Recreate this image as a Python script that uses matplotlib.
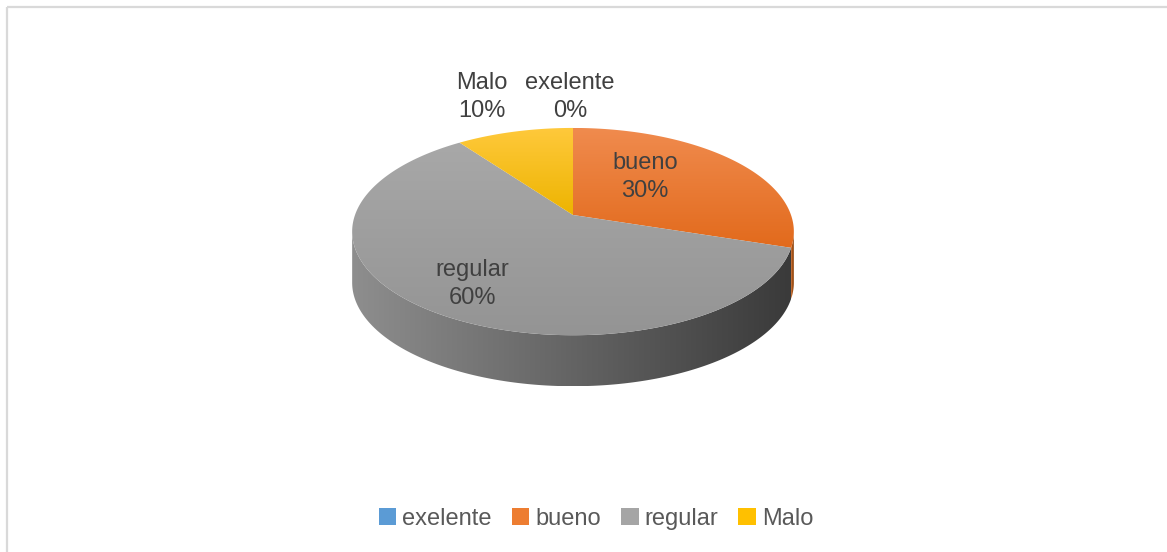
import numpy as np
import matplotlib.pyplot as plt
from matplotlib.patches import Polygon, Patch, Rectangle
from matplotlib.colors import to_rgb

plt.rcParams['font.family'] = ['Liberation Sans', 'DejaVu Sans']

labels = ['exelente', 'bueno', 'regular', 'Malo']
values = [0, 30, 60, 10]
colors = ['#5B9BD5', '#ED7D31', '#A5A5A5', '#FFC000']
# lighter/darker shades used for the shaded top faces
tops_hi = ['#6FA8DC', '#F08B4E', '#A8A8A8', '#FFC93C']
tops_lo = ['#4A8AC4', '#E26A1C', '#949494', '#EDB400']
side_l = ['#4A7FB0', '#C0601E', '#8E8E8E', '#C89A00']
side_r = ['#2E5A82', '#8A4310', '#3A3A3A', '#8C6C00']

W, H = 1167, 552
fig = plt.figure(figsize=(W/100, H/100), dpi=100)
ax = fig.add_axes([0, 0, 1, 1])
ax.set_xlim(0, W)
ax.set_ylim(H, 0)
ax.axis('off')

ax.add_patch(Rectangle((6.5, 6.5), W, H, fill=False, ec='#D9D9D9', lw=1.6))

# pie geometry: centre, radius, perspective factor, vertical scale, thickness
cx, cy, R, k, c, depth = 573, 215, 218, 0.16, 101, 51

def proj(th):
    x, y = np.cos(th), np.sin(th)
    d = 1 + k*y
    return cx + R*x/d, cy - c*y/d

def grad_fill(poly, c0, c1, horizontal):
    ax.add_patch(poly)
    x0, y0 = poly.get_xy().min(axis=0)
    x1, y1 = poly.get_xy().max(axis=0)
    t = np.linspace(0, 1, 256)
    a, b = np.array(to_rgb(c0)), np.array(to_rgb(c1))
    g = a[None, :]*(1-t[:, None]) + b[None, :]*t[:, None]
    img = g[None, :, :] if horizontal else g[:, None, :]
    im = ax.imshow(img, extent=(x0, x1, y1, y0), aspect='auto',
                   interpolation='bilinear', zorder=poly.get_zorder())
    im.set_clip_path(poly)

total = sum(values)
start = np.pi/2
spans = []
for v in values:
    end = start - 2*np.pi*v/total
    spans.append((end, start))
    start = end

# front silhouette limits
lo_lim = np.pi + np.arcsin(k)
hi_lim = 2*np.pi - np.arcsin(k)

# side walls
for i, (a, b) in enumerate(spans):
    if values[i] == 0:
        continue
    for shift in (0, 2*np.pi, -2*np.pi):
        s0, s1 = max(a + shift, lo_lim), min(b + shift, hi_lim)
        if s1 <= s0:
            continue
        th = np.linspace(s0, s1, 200)
        xs, ys = proj(th)
        pts = np.vstack([np.column_stack([xs, ys]),
                         np.column_stack([xs[::-1], ys[::-1] + depth])])
        grad_fill(Polygon(pts, closed=True, fc='none', ec='none', zorder=1),
                  side_l[i], side_r[i], horizontal=True)

# top faces
for i, (a, b) in enumerate(spans):
    if values[i] == 0:
        continue
    th = np.linspace(a, b, 300)
    xs, ys = proj(th)
    pts = np.vstack([[cx, cy], np.column_stack([xs, ys])])
    grad_fill(Polygon(pts, closed=True, fc='none', ec='none', zorder=2),
              tops_hi[i], tops_lo[i], horizontal=False)

# data labels
label_pos = {'exelente': (570, 97), 'Malo': (482, 97),
             'bueno': (645, 177), 'regular': (472, 284)}
for lab, v in zip(labels, values):
    x, y = label_pos[lab]
    ax.text(x, y, f'{lab}\n{v/total:.0%}', ha='center', va='center',
            fontsize=17, color='#404040', linespacing=1.3, zorder=5)

handles = [Patch(fc=col, ec='none') for col in colors]
ax.legend(handles, labels, loc='center', bbox_to_anchor=(596/W, 1 - 519/H),
          bbox_transform=fig.transFigure, ncol=4, frameon=False,
          fontsize=17, labelcolor='#595959', handlelength=0.75,
          handleheight=0.75, handletextpad=0.25, columnspacing=0.85)

fig.savefig('out.png', dpi=100)
